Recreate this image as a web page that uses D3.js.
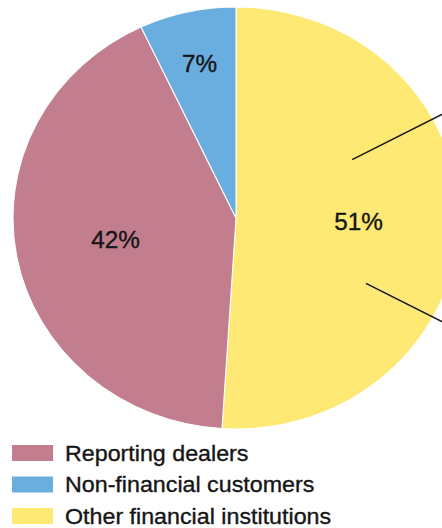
<!DOCTYPE html>
<html>
<head>
<meta charset="utf-8">
<script src="https://cdn.jsdelivr.net/npm/d3@7"></script>
<style>
  body { margin: 0; background: #fff; }
  text { font-family: "Liberation Sans", Arial, sans-serif; fill: #151515; stroke: #151515; stroke-width: 0.35px; }
</style>
</head>
<body>
<svg id="chart" width="442" height="528"></svg>
<script>
// data
const sectors = ['Other financial institutions', 'Reporting dealers', 'Non-financial customers']
const shares = [51, 42, 7]
const colors = ['#fee975', '#c27e8e', '#6aaddf']
// legend order as in the picture
const legendOrder = ['Reporting dealers', 'Non-financial customers', 'Other financial institutions']

const svg = d3.select('#chart')

// the source image is slightly stretched horizontally
const R = 211
const SX = 223 / 211
const cx = 236, cy = 218

const rows = sectors.map((name, i) => ({ name, value: shares[i], color: colors[i] }))

const pie = d3.pie().sort(null).value(d => d.value)
const arcs = pie(rows)

const arc = d3.arc().innerRadius(0).outerRadius(R)

const Pie = svg.append('g')
    .attr('transform', `translate(${cx},${cy}) scale(${SX},1)`)

Pie.selectAll('path')
    .data(arcs)
    .enter()
    .append('path')
    .attr('d', arc)
    .attr('fill', d => d.data.color)
    .attr('stroke', '#fff')
    .attr('stroke-width', 1)

/**
 * leader lines (callouts sit outside the crop)
 */
const leaders = [
    { angle: 62, r0: 0.59, r1: 1.15 },
    { angle: 118, r0: 0.66, r1: 1.15 }
]
Pie.selectAll('.leader')
    .data(leaders)
    .enter()
    .append('line')
    .attr('x1', d => Math.sin(d.angle * Math.PI / 180) * R * d.r0)
    .attr('y1', d => -Math.cos(d.angle * Math.PI / 180) * R * d.r0)
    .attr('x2', d => Math.sin(d.angle * Math.PI / 180) * R * d.r1)
    .attr('y2', d => -Math.cos(d.angle * Math.PI / 180) * R * d.r1)
    .attr('stroke', '#1a1a1a')
    .attr('stroke-width', 1.5)

// percent labels
Pie.selectAll('.pct')
    .data(arcs)
    .enter()
    .append('text')
    .attr('transform', d => {
        const r = d.data.value < 10 ? R * 0.75 : R * 0.55
        const c = d3.arc().innerRadius(r).outerRadius(r).centroid(d)
        return `translate(${c[0]},${c[1]})`
    })
    .attr('text-anchor', 'middle')
    .attr('dy', '0.36em')
    .style('font-size', '23px')
    .text(d => d.data.value + '%')

/**
 * legend
 */
const Legend = svg.append('g')
    .attr('transform', `translate(0,453) scale(${SX},1)`)

const legendY = d3.scalePoint().domain(legendOrder).range([0, 63])

const item = Legend.selectAll('.item')
    .data(legendOrder)
    .enter()
    .append('g')
    .attr('transform', d => `translate(0,${legendY(d)})`)

item.append('rect')
    .attr('x', 11.4)
    .attr('y', -8)
    .attr('width', 38.8)
    .attr('height', 16)
    .attr('fill', d => colors[sectors.indexOf(d)])

item.append('text')
    .attr('x', 61.5)
    .attr('dy', '0.36em')
    .style('font-size', '22px')
    .text(d => d)
</script>
</body>
</html>
